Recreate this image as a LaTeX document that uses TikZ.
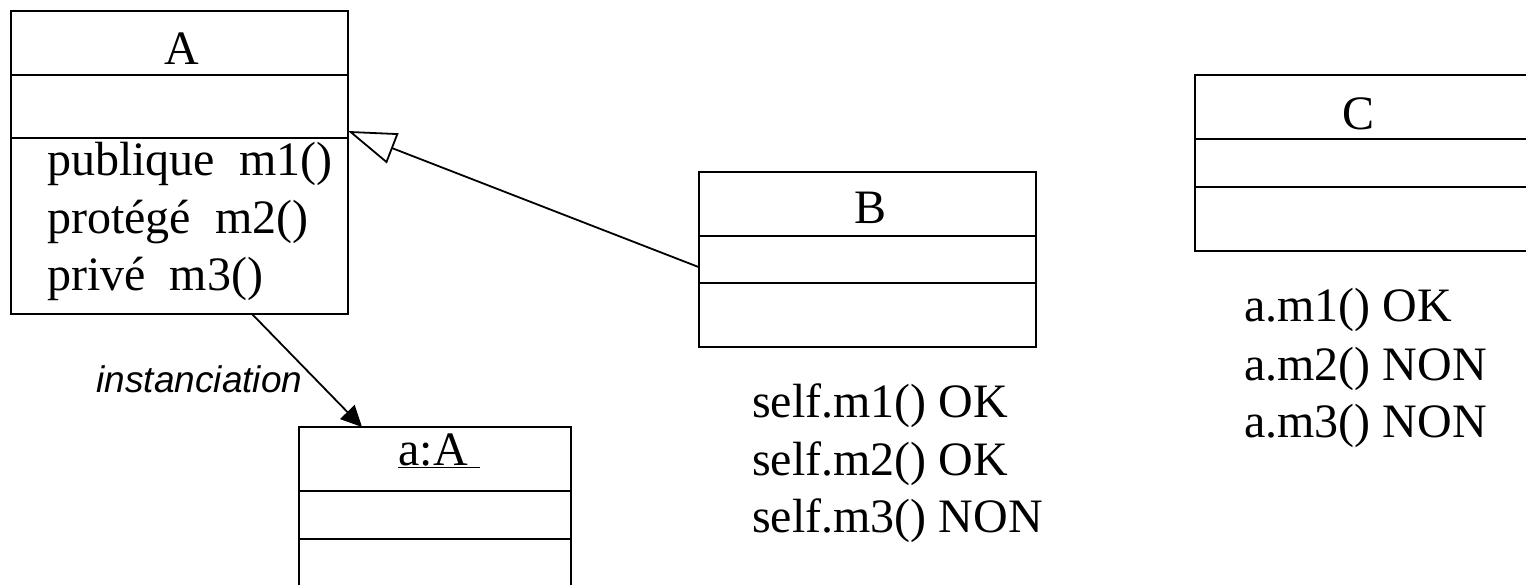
\documentclass[tikz,border=0pt]{standalone}
\usepackage{fontspec}
\setmainfont{Liberation Serif}
\newfontfamily\notefont{Liberation Sans}
\usetikzlibrary{arrows.meta}

\tikzset{
  part/.style={draw, line width=2pt, inner sep=0pt, outer sep=0pt},
  wide/.style={part, minimum width=337pt},
  narrow/.style={part, minimum width=272pt},
  big/.style={font=\fontsize{48}{57}\selectfont, inner sep=0pt, anchor=base},
  line/.style={big, anchor=base west},
  inherit/.style={line width=1.8pt, -{Triangle[open, length=48pt, width=32pt, line width=1.8pt]}},
  inst/.style={line width=1.8pt, -{Triangle[length=21pt, width=20pt]}}
}

\begin{document}
\begin{tikzpicture}[x=1pt, y=-1pt]
      \clip (0,0) rectangle (1526,585);
      % classes
      \draw
        (179.5,43) node[wide, minimum height=64pt] (A1){}
        (179.5,106.5) node[wide, minimum height=63pt] (A2){}
        (179.5,226) node[wide, minimum height=176pt] (A3){}
        (867,204) node[wide, minimum height=64pt] (B1){}
        (867,259.5) node[wide, minimum height=47pt] (B2){}
        (867,315) node[wide, minimum height=64pt] (B3){}
        (1363,107) node[wide, minimum height=64pt] (C1){}
        (1363,163) node[wide, minimum height=48pt] (C2){}
        (1363,219) node[wide, minimum height=64pt] (C3){}
        (435,459) node[narrow, minimum height=64pt] (a1){}
        (435,515) node[narrow, minimum height=48pt] (a2){}
        (435,571) node[narrow, minimum height=64pt] (a3){};
      % texts
      \draw
        (182,65) node[big] (nameA){A}
        (870,224) node[big] (nameB){B}
        (1358,130) node[big] (nameC){C}
        (439,465) node[big] (namea){\underline{a:A\ }}
        (47,176) node[line] (m1){publique~~m1()}
        (47,233.5) node[line] (m2){protégé~~m2()}
        (47,291) node[line] (m3){privé~~m3()}
        (752,417) node[line] (s1){self.m1() OK}
        (752,475) node[line] (s2){self.m2() OK}
        (752,532) node[line] (s3){self.m3() NON}
        (1244,322) node[line] (c1){a.m1() OK}
        (1244,380) node[line] (c2){a.m2() NON}
        (1244,437) node[line] (c3){a.m3() NON}
        (199.5,392) node[anchor=base, inner sep=0pt, font=\notefont\itshape\fontsize{37}{44}\selectfont] (inst){instanciation};
      \begin{scope}
        \draw[inherit] ([yshift=-7.5pt]B2.west) to ([yshift=-24.5pt]A2.east);
        \draw[inst] ([xshift=72.5pt]A3.south) to ([xshift=-73pt]a1.north);
      \end{scope}
    \end{tikzpicture}
\end{document}
